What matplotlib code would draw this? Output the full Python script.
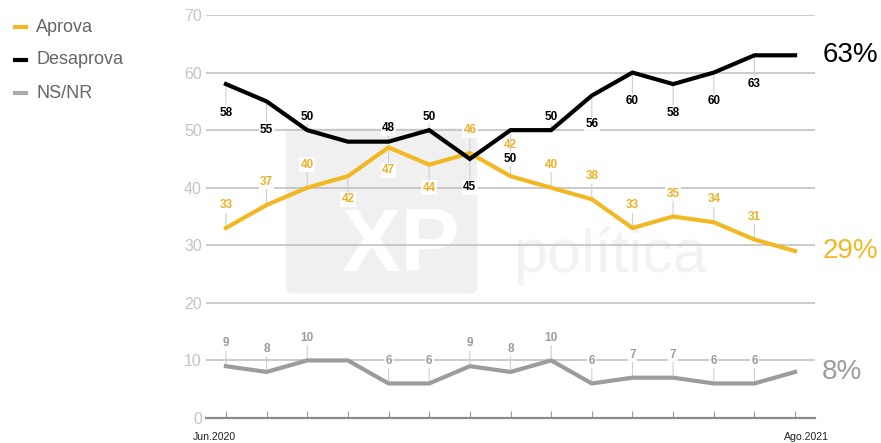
import numpy as np
import matplotlib
matplotlib.use("Agg")
import matplotlib.pyplot as plt
from matplotlib.patches import FancyBboxPatch
from matplotlib.lines import Line2D

plt.rcParams['font.family'] = ['Liberation Sans', 'DejaVu Sans']

# survey rounds, Jun.2020 .. Ago.2021
first_label = 'Jun.2020'
last_label = 'Ago.2021'
aprova = [33, 37, 40, 42, 47, 44, 46, 42, 40, 38, 33, 35, 34, 31, 29]
desaprova = [58, 55, 50, 48, 48, 50, 45, 50, 50, 56, 60, 58, 60, 63, 63]
nsnr = [9, 8, 10, 10, 6, 6, 9, 8, 10, 6, 7, 7, 6, 6, 8]

# value label placement: >0 above, <0 below, 0 none (magnitude scales the gap)
aprova_dir = [1, 1, 1, -1, -1, -1, 1, 1.35, 1, 1, 1, 1, 1, 1, 0]
desaprova_dir = [-1, -1, 1, 0, 1, 1, -1, -1, 1, -1, -1, -1, -1, -1, 0]
nsnr_dir = [1, 1, 1, 0, 1, 1, 1, 1, 1, 1, 1, 1, 1, 1, 0]

ORANGE = '#F2B824'
ORANGE_TXT = '#EBB12B'
BLACK = '#000000'
GRAY = '#9c9c9c'

W, H = 881, 443
fig = plt.figure(figsize=(W / 100, H / 100), dpi=100)
ax = fig.add_axes([206 / W, 1 - 418 / H, 609 / W, 403 / H])

x = np.arange(len(aprova))
ax.set_xlim(-0.49, len(x) - 1 + 0.49)
ax.set_ylim(0, 70)

# watermark box behind everything
box = FancyBboxPatch((291 / W, 1 - 291 / H), 181 / W, 160 / H,
                     boxstyle='round,pad=0.006,rounding_size=0.012',
                     transform=fig.transFigure, facecolor='#f0f0f0',
                     edgecolor='none', zorder=0.1)
ax.add_patch(box)
ax.text(400 / W, 1 - 248 / H, 'XP', transform=fig.transFigure, fontsize=64,
        fontweight='heavy', color='white', ha='center', va='center', zorder=0.2)
ax.text(513 / W, 1 - 272 / H, 'política', transform=fig.transFigure, fontsize=44,
        color='#f2f2f2', ha='left', va='baseline', zorder=0.2)

ax.set_yticks(range(0, 71, 10))
ax.set_axisbelow(True)
ax.yaxis.grid(True, color='#bdbdbd', lw=1.1)
for s in ['top', 'right', 'left']:
    ax.spines[s].set_visible(False)
ax.spines['bottom'].set_color('#8a8a8a')
ax.spines['bottom'].set_linewidth(1.6)
ax.tick_params(axis='y', length=0, pad=3, labelsize=11.5, labelcolor='#c4c4c4')
ax.set_xticks(x)
ax.set_xticklabels([''] * len(x))
ax.tick_params(axis='x', direction='in', length=5, width=0.8, color='#9a9a9a')

series = [
    (nsnr, GRAY, GRAY, nsnr_dir, 16.5, 16.5),
    (aprova, ORANGE, ORANGE_TXT, aprova_dir, 16.5, 16.5),
    (desaprova, BLACK, BLACK, desaprova_dir, 9.5, 20.5),
]
for vals, col, tcol, dirs, up, down in series:
    ax.plot(x, vals, color=col, lw=3, solid_joinstyle='miter', zorder=3)
    for xi, v, d in zip(x, vals, dirs):
        if d == 0:
            continue
        off = up * d if d > 0 else down * d
        ax.annotate(str(v), xy=(xi, v), xytext=(0, off), textcoords='offset points',
                    ha='center', va='center', fontsize=8.5, fontweight='bold', color=tcol,
                    bbox=dict(boxstyle='square,pad=0.12', fc='white', ec='none', alpha=0.9),
                    arrowprops=dict(arrowstyle='-', color='#cfcfcf', lw=0.8, shrinkA=0, shrinkB=0),
                    zorder=2)
    ax.annotate(f'{vals[-1]}%', xy=(x[-1], vals[-1]), xytext=(19.5, 0),
                textcoords='offset points', ha='left', va='center', fontsize=20,
                color=col, annotation_clip=False)

fig.text(214 / W, 1 - 437 / H, first_label, ha='center', va='center', fontsize=7.6, color='#222222')
fig.text(806 / W, 1 - 437 / H, last_label, ha='center', va='center', fontsize=7.6, color='#222222')

# legend
legend_items = [('Aprova', ORANGE), ('Desaprova', BLACK), ('NS/NR', '#aaaaaa')]
for i, (name, col) in enumerate(legend_items):
    yy = 1 - (27 + 33 * i) / H
    fig.add_artist(Line2D([15 / W, 26 / W], [yy, yy], color=col, lw=3, transform=fig.transFigure))
    fig.text(36 / W, yy, name, ha='left', va='center', fontsize=13, color='#666666')

fig.savefig('out.png', dpi=100)
